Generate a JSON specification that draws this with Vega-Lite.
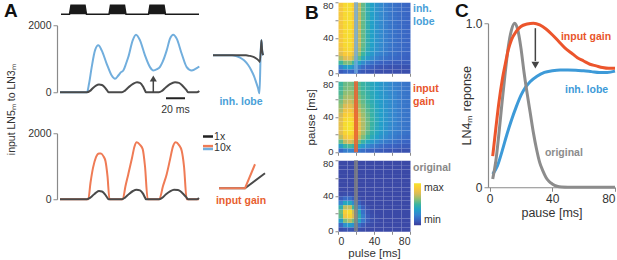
{
"$schema": "https://vega.github.io/schema/vega-lite/v6.json",
"background": "white",
"padding": {"left": 4, "top": 0.25, "right": 0, "bottom": 0},
"config": {
 "font": "Liberation Sans",
 "view": {"stroke": null},
 "axis": {"domainColor": "#8a8a8a", "tickColor": "#8a8a8a", "labelColor": "#333", "titleColor": "#333", "labelFontSize": 10.5, "titleFontSize": 11, "titleFontWeight": "normal", "grid": false, "tickSize": 4, "labelPadding": 2, "domainWidth": 1.2},
 "legend": {"labelFontSize": 10.5, "labelColor": "#333"}
},
"datasets": {
 "stimulus": [{"t":1,"v":0},{"t":9.5,"v":0},{"t":11,"v":1},{"t":25,"v":1},{"t":26.5,"v":0},{"t":49,"v":0},{"t":50.5,"v":1},{"t":64.5,"v":1},{"t":66,"v":0},{"t":88.5,"v":0},{"t":90,"v":1},{"t":104,"v":1},{"t":105.5,"v":0},{"t":139,"v":0}],
 "inhTrace": [
  {"gain":"10x","time":0,"input":0},{"gain":"10x","time":27,"input":0},{"gain":"10x","time":29,"input":250},{"gain":"10x","time":31.7,"input":750},{"gain":"10x","time":35,"input":1250},{"gain":"10x","time":38.3,"input":1400},{"gain":"10x","time":41.7,"input":1250},{"gain":"10x","time":46.7,"input":850},{"gain":"10x","time":51.7,"input":500},{"gain":"10x","time":55,"input":400},{"gain":"10x","time":58.3,"input":500},{"gain":"10x","time":61,"input":600},{"gain":"10x","time":63.3,"input":650},{"gain":"10x","time":66,"input":850},{"gain":"10x","time":68.3,"input":1050},{"gain":"10x","time":72.7,"input":1550},{"gain":"10x","time":76,"input":1720},{"gain":"10x","time":80,"input":1550},{"gain":"10x","time":85,"input":1100},{"gain":"10x","time":90,"input":750},{"gain":"10x","time":93.3,"input":650},{"gain":"10x","time":97,"input":690},{"gain":"10x","time":100,"input":760},{"gain":"10x","time":102.5,"input":900},{"gain":"10x","time":106.7,"input":1250},{"gain":"10x","time":110,"input":1600},{"gain":"10x","time":113.3,"input":1720},{"gain":"10x","time":116.7,"input":1600},{"gain":"10x","time":121.7,"input":1150},{"gain":"10x","time":126.7,"input":750},{"gain":"10x","time":131.7,"input":650},{"gain":"10x","time":135,"input":690},{"gain":"10x","time":139.3,"input":770},
  {"gain":"1x","time":0,"input":0},{"gain":"1x","time":27,"input":0},{"gain":"1x","time":30,"input":40},{"gain":"1x","time":33,"input":130},{"gain":"1x","time":36,"input":200},{"gain":"1x","time":39,"input":230},{"gain":"1x","time":42,"input":215},{"gain":"1x","time":45,"input":140},{"gain":"1x","time":47,"input":60},{"gain":"1x","time":48.5,"input":0},{"gain":"1x","time":62,"input":0},{"gain":"1x","time":65,"input":50},{"gain":"1x","time":69,"input":160},{"gain":"1x","time":73,"input":250},{"gain":"1x","time":77,"input":300},{"gain":"1x","time":80,"input":280},{"gain":"1x","time":83,"input":170},{"gain":"1x","time":85,"input":50},{"gain":"1x","time":86,"input":0},{"gain":"1x","time":99,"input":0},{"gain":"1x","time":102,"input":40},{"gain":"1x","time":106,"input":150},{"gain":"1x","time":110,"input":240},{"gain":"1x","time":115,"input":300},{"gain":"1x","time":119,"input":280},{"gain":"1x","time":123,"input":180},{"gain":"1x","time":126.5,"input":60},{"gain":"1x","time":128,"input":0},{"gain":"1x","time":137,"input":0},{"gain":"1x","time":139.3,"input":40}
 ],
 "gainTrace": [
  {"gain":"10x","time":0,"input":0},{"gain":"10x","time":28.3,"input":0},{"gain":"10x","time":30.5,"input":500},{"gain":"10x","time":33,"input":950},{"gain":"10x","time":36,"input":1280},{"gain":"10x","time":39,"input":1390},{"gain":"10x","time":41,"input":1390},{"gain":"10x","time":43.5,"input":1300},{"gain":"10x","time":45.5,"input":1150},{"gain":"10x","time":47.5,"input":700},{"gain":"10x","time":49.5,"input":0},{"gain":"10x","time":62.7,"input":0},{"gain":"10x","time":65.5,"input":400},{"gain":"10x","time":68.3,"input":760},{"gain":"10x","time":72,"input":1250},{"gain":"10x","time":74.5,"input":1600},{"gain":"10x","time":76.7,"input":1725},{"gain":"10x","time":80,"input":1650},{"gain":"10x","time":82.7,"input":1520},{"gain":"10x","time":85,"input":1000},{"gain":"10x","time":87.7,"input":0},{"gain":"10x","time":99.3,"input":0},{"gain":"10x","time":103,"input":400},{"gain":"10x","time":106.7,"input":760},{"gain":"10x","time":110,"input":1200},{"gain":"10x","time":113,"input":1600},{"gain":"10x","time":115.7,"input":1725},{"gain":"10x","time":119,"input":1640},{"gain":"10x","time":121.7,"input":1470},{"gain":"10x","time":124,"input":1000},{"gain":"10x","time":126.7,"input":0},{"gain":"10x","time":139,"input":0},
  {"gain":"1x","time":0,"input":0},{"gain":"1x","time":27,"input":0},{"gain":"1x","time":30,"input":40},{"gain":"1x","time":33,"input":120},{"gain":"1x","time":36,"input":200},{"gain":"1x","time":39,"input":250},{"gain":"1x","time":42,"input":235},{"gain":"1x","time":45,"input":150},{"gain":"1x","time":47,"input":60},{"gain":"1x","time":48.5,"input":0},{"gain":"1x","time":62,"input":0},{"gain":"1x","time":65,"input":50},{"gain":"1x","time":69,"input":160},{"gain":"1x","time":73,"input":250},{"gain":"1x","time":76.5,"input":290},{"gain":"1x","time":80,"input":270},{"gain":"1x","time":83,"input":170},{"gain":"1x","time":85,"input":50},{"gain":"1x","time":86,"input":0},{"gain":"1x","time":99,"input":0},{"gain":"1x","time":102,"input":40},{"gain":"1x","time":106,"input":150},{"gain":"1x","time":110,"input":240},{"gain":"1x","time":114,"input":290},{"gain":"1x","time":118,"input":280},{"gain":"1x","time":122,"input":200},{"gain":"1x","time":126,"input":70},{"gain":"1x","time":128,"input":0},{"gain":"1x","time":137,"input":0},{"gain":"1x","time":139,"input":40}
 ],
 "kernel": [
  {"gain":"10x","lag":-52,"w":0},{"gain":"10x","lag":-33,"w":0},{"gain":"10x","lag":-29,"w":-0.02},{"gain":"10x","lag":-25,"w":-0.06},{"gain":"10x","lag":-21,"w":-0.13},{"gain":"10x","lag":-17,"w":-0.25},{"gain":"10x","lag":-14,"w":-0.38},{"gain":"10x","lag":-11,"w":-0.55},{"gain":"10x","lag":-9,"w":-0.7},{"gain":"10x","lag":-7,"w":-0.86},{"gain":"10x","lag":-5.5,"w":-1.0},{"gain":"10x","lag":-4.3,"w":0.1},{"gain":"10x","lag":-3.6,"w":0.4},{"gain":"10x","lag":-2.8,"w":0.12},{"gain":"10x","lag":-1.8,"w":0},
  {"gain":"1x","lag":-52,"w":0},{"gain":"1x","lag":-19,"w":0},{"gain":"1x","lag":-15,"w":-0.02},{"gain":"1x","lag":-11,"w":-0.05},{"gain":"1x","lag":-8,"w":-0.1},{"gain":"1x","lag":-6,"w":-0.15},{"gain":"1x","lag":-5.2,"w":-0.18},{"gain":"1x","lag":-4.3,"w":0.1},{"gain":"1x","lag":-3.6,"w":0.4},{"gain":"1x","lag":-2.8,"w":0.12},{"gain":"1x","lag":-1.8,"w":0}
 ],
 "nonlin": [
  {"gain":"1x","x":-1,"y":0},{"gain":"1x","x":0,"y":0},{"gain":"1x","x":0.769,"y":0.577},
  {"gain":"10x","x":-1,"y":0},{"gain":"10x","x":0,"y":0},{"gain":"10x","x":0.385,"y":0.923}
 ],
 "lnResp": [
  {"model":"original","pause":2,"r":0.05},{"model":"original","pause":4,"r":0.16},{"model":"original","pause":6,"r":0.33},{"model":"original","pause":8,"r":0.52},{"model":"original","pause":10,"r":0.7},{"model":"original","pause":12,"r":0.86},{"model":"original","pause":14,"r":0.96},{"model":"original","pause":16,"r":1.0},{"model":"original","pause":18,"r":0.96},{"model":"original","pause":20,"r":0.85},{"model":"original","pause":22,"r":0.7},{"model":"original","pause":24,"r":0.57},{"model":"original","pause":26,"r":0.45},{"model":"original","pause":28,"r":0.33},{"model":"original","pause":30,"r":0.23},{"model":"original","pause":32,"r":0.15},{"model":"original","pause":34,"r":0.1},{"model":"original","pause":36,"r":0.06},{"model":"original","pause":38,"r":0.035},{"model":"original","pause":40,"r":0.02},{"model":"original","pause":43,"r":0.006},{"model":"original","pause":46,"r":0.001},{"model":"original","pause":50,"r":0},{"model":"original","pause":80,"r":0},
  {"model":"input gain","pause":2,"r":0.19},{"model":"input gain","pause":4,"r":0.36},{"model":"input gain","pause":6,"r":0.52},{"model":"input gain","pause":8,"r":0.65},{"model":"input gain","pause":10,"r":0.75},{"model":"input gain","pause":12,"r":0.84},{"model":"input gain","pause":14,"r":0.9},{"model":"input gain","pause":17,"r":0.95},{"model":"input gain","pause":20,"r":0.98},{"model":"input gain","pause":24,"r":0.995},{"model":"input gain","pause":28,"r":1.0},{"model":"input gain","pause":32,"r":0.99},{"model":"input gain","pause":36,"r":0.965},{"model":"input gain","pause":40,"r":0.93},{"model":"input gain","pause":44,"r":0.89},{"model":"input gain","pause":48,"r":0.85},{"model":"input gain","pause":52,"r":0.82},{"model":"input gain","pause":56,"r":0.79},{"model":"input gain","pause":60,"r":0.77},{"model":"input gain","pause":64,"r":0.75},{"model":"input gain","pause":68,"r":0.74},{"model":"input gain","pause":72,"r":0.73},{"model":"input gain","pause":76,"r":0.725},{"model":"input gain","pause":80,"r":0.725},
  {"model":"inh. lobe","pause":2,"r":0.08},{"model":"inh. lobe","pause":5,"r":0.13},{"model":"inh. lobe","pause":8,"r":0.22},{"model":"inh. lobe","pause":11,"r":0.32},{"model":"inh. lobe","pause":14,"r":0.41},{"model":"inh. lobe","pause":17,"r":0.49},{"model":"inh. lobe","pause":20,"r":0.56},{"model":"inh. lobe","pause":23,"r":0.61},{"model":"inh. lobe","pause":26,"r":0.645},{"model":"inh. lobe","pause":30,"r":0.675},{"model":"inh. lobe","pause":35,"r":0.7},{"model":"inh. lobe","pause":40,"r":0.71},{"model":"inh. lobe","pause":45,"r":0.715},{"model":"inh. lobe","pause":50,"r":0.715},{"model":"inh. lobe","pause":55,"r":0.714},{"model":"inh. lobe","pause":60,"r":0.71},{"model":"inh. lobe","pause":65,"r":0.705},{"model":"inh. lobe","pause":70,"r":0.7},{"model":"inh. lobe","pause":75,"r":0.7},{"model":"inh. lobe","pause":80,"r":0.708}
 ],
 "heatInh": [
  {"pulse":0,"pause":0,"v":0.1},{"pulse":5,"pause":0,"v":0.14},{"pulse":10,"pause":0,"v":0.15},{"pulse":15,"pause":0,"v":0.13},{"pulse":20,"pause":0,"v":0.11},{"pulse":25,"pause":0,"v":0.09},{"pulse":30,"pause":0,"v":0.08},{"pulse":35,"pause":0,"v":0.07},{"pulse":40,"pause":0,"v":0.06},{"pulse":45,"pause":0,"v":0.06},{"pulse":50,"pause":0,"v":0.06},{"pulse":55,"pause":0,"v":0.06},{"pulse":60,"pause":0,"v":0.06},{"pulse":65,"pause":0,"v":0.06},{"pulse":70,"pause":0,"v":0.06},{"pulse":75,"pause":0,"v":0.06},
  {"pulse":0,"pause":5,"v":0.25},{"pulse":5,"pause":5,"v":0.35},{"pulse":10,"pause":5,"v":0.36},{"pulse":15,"pause":5,"v":0.3},{"pulse":20,"pause":5,"v":0.22},{"pulse":25,"pause":5,"v":0.16},{"pulse":30,"pause":5,"v":0.13},{"pulse":35,"pause":5,"v":0.11},{"pulse":40,"pause":5,"v":0.09},{"pulse":45,"pause":5,"v":0.08},{"pulse":50,"pause":5,"v":0.08},{"pulse":55,"pause":5,"v":0.07},{"pulse":60,"pause":5,"v":0.07},{"pulse":65,"pause":5,"v":0.07},{"pulse":70,"pause":5,"v":0.07},{"pulse":75,"pause":5,"v":0.07},
  {"pulse":0,"pause":10,"v":0.5},{"pulse":5,"pause":10,"v":0.6},{"pulse":10,"pause":10,"v":0.6},{"pulse":15,"pause":10,"v":0.5},{"pulse":20,"pause":10,"v":0.38},{"pulse":25,"pause":10,"v":0.28},{"pulse":30,"pause":10,"v":0.22},{"pulse":35,"pause":10,"v":0.18},{"pulse":40,"pause":10,"v":0.15},{"pulse":45,"pause":10,"v":0.13},{"pulse":50,"pause":10,"v":0.12},{"pulse":55,"pause":10,"v":0.11},{"pulse":60,"pause":10,"v":0.1},{"pulse":65,"pause":10,"v":0.1},{"pulse":70,"pause":10,"v":0.1},{"pulse":75,"pause":10,"v":0.1},
  {"pulse":0,"pause":15,"v":0.68},{"pulse":5,"pause":15,"v":0.78},{"pulse":10,"pause":15,"v":0.8},{"pulse":15,"pause":15,"v":0.7},{"pulse":20,"pause":15,"v":0.55},{"pulse":25,"pause":15,"v":0.42},{"pulse":30,"pause":15,"v":0.34},{"pulse":35,"pause":15,"v":0.28},{"pulse":40,"pause":15,"v":0.23},{"pulse":45,"pause":15,"v":0.2},{"pulse":50,"pause":15,"v":0.18},{"pulse":55,"pause":15,"v":0.16},{"pulse":60,"pause":15,"v":0.15},{"pulse":65,"pause":15,"v":0.14},{"pulse":70,"pause":15,"v":0.13},{"pulse":75,"pause":15,"v":0.12},
  {"pulse":0,"pause":20,"v":0.78},{"pulse":5,"pause":20,"v":0.88},{"pulse":10,"pause":20,"v":0.9},{"pulse":15,"pause":20,"v":0.8},{"pulse":20,"pause":20,"v":0.64},{"pulse":25,"pause":20,"v":0.5},{"pulse":30,"pause":20,"v":0.4},{"pulse":35,"pause":20,"v":0.33},{"pulse":40,"pause":20,"v":0.27},{"pulse":45,"pause":20,"v":0.24},{"pulse":50,"pause":20,"v":0.21},{"pulse":55,"pause":20,"v":0.18},{"pulse":60,"pause":20,"v":0.17},{"pulse":65,"pause":20,"v":0.15},{"pulse":70,"pause":20,"v":0.14},{"pulse":75,"pause":20,"v":0.13},
  {"pulse":0,"pause":25,"v":0.83},{"pulse":5,"pause":25,"v":0.93},{"pulse":10,"pause":25,"v":0.95},{"pulse":15,"pause":25,"v":0.85},{"pulse":20,"pause":25,"v":0.69},{"pulse":25,"pause":25,"v":0.54},{"pulse":30,"pause":25,"v":0.43},{"pulse":35,"pause":25,"v":0.35},{"pulse":40,"pause":25,"v":0.3},{"pulse":45,"pause":25,"v":0.26},{"pulse":50,"pause":25,"v":0.22},{"pulse":55,"pause":25,"v":0.19},{"pulse":60,"pause":25,"v":0.17},{"pulse":65,"pause":25,"v":0.16},{"pulse":70,"pause":25,"v":0.15},{"pulse":75,"pause":25,"v":0.14},
  {"pulse":0,"pause":30,"v":0.86},{"pulse":5,"pause":30,"v":0.95},{"pulse":10,"pause":30,"v":0.97},{"pulse":15,"pause":30,"v":0.88},{"pulse":20,"pause":30,"v":0.72},{"pulse":25,"pause":30,"v":0.56},{"pulse":30,"pause":30,"v":0.45},{"pulse":35,"pause":30,"v":0.37},{"pulse":40,"pause":30,"v":0.31},{"pulse":45,"pause":30,"v":0.27},{"pulse":50,"pause":30,"v":0.23},{"pulse":55,"pause":30,"v":0.2},{"pulse":60,"pause":30,"v":0.18},{"pulse":65,"pause":30,"v":0.16},{"pulse":70,"pause":30,"v":0.15},{"pulse":75,"pause":30,"v":0.14},
  {"pulse":0,"pause":35,"v":0.86},{"pulse":5,"pause":35,"v":0.95},{"pulse":10,"pause":35,"v":0.97},{"pulse":15,"pause":35,"v":0.88},{"pulse":20,"pause":35,"v":0.72},{"pulse":25,"pause":35,"v":0.56},{"pulse":30,"pause":35,"v":0.45},{"pulse":35,"pause":35,"v":0.37},{"pulse":40,"pause":35,"v":0.31},{"pulse":45,"pause":35,"v":0.27},{"pulse":50,"pause":35,"v":0.23},{"pulse":55,"pause":35,"v":0.2},{"pulse":60,"pause":35,"v":0.18},{"pulse":65,"pause":35,"v":0.16},{"pulse":70,"pause":35,"v":0.15},{"pulse":75,"pause":35,"v":0.14},
  {"pulse":0,"pause":40,"v":0.86},{"pulse":5,"pause":40,"v":0.95},{"pulse":10,"pause":40,"v":0.97},{"pulse":15,"pause":40,"v":0.88},{"pulse":20,"pause":40,"v":0.72},{"pulse":25,"pause":40,"v":0.56},{"pulse":30,"pause":40,"v":0.45},{"pulse":35,"pause":40,"v":0.37},{"pulse":40,"pause":40,"v":0.31},{"pulse":45,"pause":40,"v":0.27},{"pulse":50,"pause":40,"v":0.23},{"pulse":55,"pause":40,"v":0.2},{"pulse":60,"pause":40,"v":0.18},{"pulse":65,"pause":40,"v":0.16},{"pulse":70,"pause":40,"v":0.15},{"pulse":75,"pause":40,"v":0.14},
  {"pulse":0,"pause":45,"v":0.86},{"pulse":5,"pause":45,"v":0.95},{"pulse":10,"pause":45,"v":0.97},{"pulse":15,"pause":45,"v":0.88},{"pulse":20,"pause":45,"v":0.72},{"pulse":25,"pause":45,"v":0.56},{"pulse":30,"pause":45,"v":0.45},{"pulse":35,"pause":45,"v":0.37},{"pulse":40,"pause":45,"v":0.31},{"pulse":45,"pause":45,"v":0.27},{"pulse":50,"pause":45,"v":0.23},{"pulse":55,"pause":45,"v":0.2},{"pulse":60,"pause":45,"v":0.18},{"pulse":65,"pause":45,"v":0.16},{"pulse":70,"pause":45,"v":0.15},{"pulse":75,"pause":45,"v":0.14},
  {"pulse":0,"pause":50,"v":0.86},{"pulse":5,"pause":50,"v":0.95},{"pulse":10,"pause":50,"v":0.97},{"pulse":15,"pause":50,"v":0.88},{"pulse":20,"pause":50,"v":0.72},{"pulse":25,"pause":50,"v":0.56},{"pulse":30,"pause":50,"v":0.45},{"pulse":35,"pause":50,"v":0.37},{"pulse":40,"pause":50,"v":0.31},{"pulse":45,"pause":50,"v":0.27},{"pulse":50,"pause":50,"v":0.23},{"pulse":55,"pause":50,"v":0.2},{"pulse":60,"pause":50,"v":0.18},{"pulse":65,"pause":50,"v":0.16},{"pulse":70,"pause":50,"v":0.15},{"pulse":75,"pause":50,"v":0.14},
  {"pulse":0,"pause":55,"v":0.86},{"pulse":5,"pause":55,"v":0.95},{"pulse":10,"pause":55,"v":0.97},{"pulse":15,"pause":55,"v":0.88},{"pulse":20,"pause":55,"v":0.72},{"pulse":25,"pause":55,"v":0.56},{"pulse":30,"pause":55,"v":0.45},{"pulse":35,"pause":55,"v":0.37},{"pulse":40,"pause":55,"v":0.31},{"pulse":45,"pause":55,"v":0.27},{"pulse":50,"pause":55,"v":0.23},{"pulse":55,"pause":55,"v":0.2},{"pulse":60,"pause":55,"v":0.18},{"pulse":65,"pause":55,"v":0.16},{"pulse":70,"pause":55,"v":0.15},{"pulse":75,"pause":55,"v":0.14},
  {"pulse":0,"pause":60,"v":0.86},{"pulse":5,"pause":60,"v":0.95},{"pulse":10,"pause":60,"v":0.97},{"pulse":15,"pause":60,"v":0.88},{"pulse":20,"pause":60,"v":0.72},{"pulse":25,"pause":60,"v":0.56},{"pulse":30,"pause":60,"v":0.45},{"pulse":35,"pause":60,"v":0.37},{"pulse":40,"pause":60,"v":0.31},{"pulse":45,"pause":60,"v":0.27},{"pulse":50,"pause":60,"v":0.23},{"pulse":55,"pause":60,"v":0.2},{"pulse":60,"pause":60,"v":0.18},{"pulse":65,"pause":60,"v":0.16},{"pulse":70,"pause":60,"v":0.15},{"pulse":75,"pause":60,"v":0.14},
  {"pulse":0,"pause":65,"v":0.86},{"pulse":5,"pause":65,"v":0.95},{"pulse":10,"pause":65,"v":0.97},{"pulse":15,"pause":65,"v":0.88},{"pulse":20,"pause":65,"v":0.72},{"pulse":25,"pause":65,"v":0.56},{"pulse":30,"pause":65,"v":0.45},{"pulse":35,"pause":65,"v":0.37},{"pulse":40,"pause":65,"v":0.31},{"pulse":45,"pause":65,"v":0.27},{"pulse":50,"pause":65,"v":0.23},{"pulse":55,"pause":65,"v":0.2},{"pulse":60,"pause":65,"v":0.18},{"pulse":65,"pause":65,"v":0.16},{"pulse":70,"pause":65,"v":0.15},{"pulse":75,"pause":65,"v":0.14},
  {"pulse":0,"pause":70,"v":0.86},{"pulse":5,"pause":70,"v":0.95},{"pulse":10,"pause":70,"v":0.97},{"pulse":15,"pause":70,"v":0.88},{"pulse":20,"pause":70,"v":0.72},{"pulse":25,"pause":70,"v":0.56},{"pulse":30,"pause":70,"v":0.45},{"pulse":35,"pause":70,"v":0.37},{"pulse":40,"pause":70,"v":0.31},{"pulse":45,"pause":70,"v":0.27},{"pulse":50,"pause":70,"v":0.23},{"pulse":55,"pause":70,"v":0.2},{"pulse":60,"pause":70,"v":0.18},{"pulse":65,"pause":70,"v":0.16},{"pulse":70,"pause":70,"v":0.15},{"pulse":75,"pause":70,"v":0.14},
  {"pulse":0,"pause":75,"v":0.86},{"pulse":5,"pause":75,"v":0.95},{"pulse":10,"pause":75,"v":0.97},{"pulse":15,"pause":75,"v":0.88},{"pulse":20,"pause":75,"v":0.72},{"pulse":25,"pause":75,"v":0.56},{"pulse":30,"pause":75,"v":0.45},{"pulse":35,"pause":75,"v":0.37},{"pulse":40,"pause":75,"v":0.31},{"pulse":45,"pause":75,"v":0.27},{"pulse":50,"pause":75,"v":0.23},{"pulse":55,"pause":75,"v":0.2},{"pulse":60,"pause":75,"v":0.18},{"pulse":65,"pause":75,"v":0.16},{"pulse":70,"pause":75,"v":0.15},{"pulse":75,"pause":75,"v":0.14}
 ],
 "heatGain": [
  {"pulse":0,"pause":0,"v":0.15},{"pulse":5,"pause":0,"v":0.22},{"pulse":10,"pause":0,"v":0.25},{"pulse":15,"pause":0,"v":0.24},{"pulse":20,"pause":0,"v":0.2},{"pulse":25,"pause":0,"v":0.17},{"pulse":30,"pause":0,"v":0.14},{"pulse":35,"pause":0,"v":0.12},{"pulse":40,"pause":0,"v":0.11},{"pulse":45,"pause":0,"v":0.1},{"pulse":50,"pause":0,"v":0.09},{"pulse":55,"pause":0,"v":0.08},{"pulse":60,"pause":0,"v":0.08},{"pulse":65,"pause":0,"v":0.07},{"pulse":70,"pause":0,"v":0.07},{"pulse":75,"pause":0,"v":0.07},
  {"pulse":0,"pause":5,"v":0.35},{"pulse":5,"pause":5,"v":0.48},{"pulse":10,"pause":5,"v":0.52},{"pulse":15,"pause":5,"v":0.48},{"pulse":20,"pause":5,"v":0.4},{"pulse":25,"pause":5,"v":0.33},{"pulse":30,"pause":5,"v":0.27},{"pulse":35,"pause":5,"v":0.22},{"pulse":40,"pause":5,"v":0.19},{"pulse":45,"pause":5,"v":0.16},{"pulse":50,"pause":5,"v":0.14},{"pulse":55,"pause":5,"v":0.13},{"pulse":60,"pause":5,"v":0.12},{"pulse":65,"pause":5,"v":0.11},{"pulse":70,"pause":5,"v":0.1},{"pulse":75,"pause":5,"v":0.1},
  {"pulse":0,"pause":10,"v":0.55},{"pulse":5,"pause":10,"v":0.7},{"pulse":10,"pause":10,"v":0.75},{"pulse":15,"pause":10,"v":0.7},{"pulse":20,"pause":10,"v":0.58},{"pulse":25,"pause":10,"v":0.48},{"pulse":30,"pause":10,"v":0.4},{"pulse":35,"pause":10,"v":0.33},{"pulse":40,"pause":10,"v":0.28},{"pulse":45,"pause":10,"v":0.24},{"pulse":50,"pause":10,"v":0.21},{"pulse":55,"pause":10,"v":0.19},{"pulse":60,"pause":10,"v":0.17},{"pulse":65,"pause":10,"v":0.15},{"pulse":70,"pause":10,"v":0.14},{"pulse":75,"pause":10,"v":0.13},
  {"pulse":0,"pause":15,"v":0.7},{"pulse":5,"pause":15,"v":0.85},{"pulse":10,"pause":15,"v":0.9},{"pulse":15,"pause":15,"v":0.85},{"pulse":20,"pause":15,"v":0.72},{"pulse":25,"pause":15,"v":0.6},{"pulse":30,"pause":15,"v":0.5},{"pulse":35,"pause":15,"v":0.42},{"pulse":40,"pause":15,"v":0.36},{"pulse":45,"pause":15,"v":0.31},{"pulse":50,"pause":15,"v":0.27},{"pulse":55,"pause":15,"v":0.24},{"pulse":60,"pause":15,"v":0.21},{"pulse":65,"pause":15,"v":0.19},{"pulse":70,"pause":15,"v":0.17},{"pulse":75,"pause":15,"v":0.16},
  {"pulse":0,"pause":20,"v":0.78},{"pulse":5,"pause":20,"v":0.93},{"pulse":10,"pause":20,"v":0.97},{"pulse":15,"pause":20,"v":0.92},{"pulse":20,"pause":20,"v":0.78},{"pulse":25,"pause":20,"v":0.66},{"pulse":30,"pause":20,"v":0.55},{"pulse":35,"pause":20,"v":0.46},{"pulse":40,"pause":20,"v":0.4},{"pulse":45,"pause":20,"v":0.34},{"pulse":50,"pause":20,"v":0.3},{"pulse":55,"pause":20,"v":0.26},{"pulse":60,"pause":20,"v":0.23},{"pulse":65,"pause":20,"v":0.21},{"pulse":70,"pause":20,"v":0.19},{"pulse":75,"pause":20,"v":0.18},
  {"pulse":0,"pause":25,"v":0.8},{"pulse":5,"pause":25,"v":0.96},{"pulse":10,"pause":25,"v":1.0},{"pulse":15,"pause":25,"v":0.94},{"pulse":20,"pause":25,"v":0.8},{"pulse":25,"pause":25,"v":0.68},{"pulse":30,"pause":25,"v":0.57},{"pulse":35,"pause":25,"v":0.48},{"pulse":40,"pause":25,"v":0.41},{"pulse":45,"pause":25,"v":0.36},{"pulse":50,"pause":25,"v":0.31},{"pulse":55,"pause":25,"v":0.27},{"pulse":60,"pause":25,"v":0.24},{"pulse":65,"pause":25,"v":0.22},{"pulse":70,"pause":25,"v":0.2},{"pulse":75,"pause":25,"v":0.19},
  {"pulse":0,"pause":30,"v":0.8},{"pulse":5,"pause":30,"v":0.96},{"pulse":10,"pause":30,"v":1.0},{"pulse":15,"pause":30,"v":0.94},{"pulse":20,"pause":30,"v":0.8},{"pulse":25,"pause":30,"v":0.68},{"pulse":30,"pause":30,"v":0.58},{"pulse":35,"pause":30,"v":0.49},{"pulse":40,"pause":30,"v":0.42},{"pulse":45,"pause":30,"v":0.36},{"pulse":50,"pause":30,"v":0.32},{"pulse":55,"pause":30,"v":0.28},{"pulse":60,"pause":30,"v":0.25},{"pulse":65,"pause":30,"v":0.22},{"pulse":70,"pause":30,"v":0.2},{"pulse":75,"pause":30,"v":0.19},
  {"pulse":0,"pause":35,"v":0.78},{"pulse":5,"pause":35,"v":0.94},{"pulse":10,"pause":35,"v":0.97},{"pulse":15,"pause":35,"v":0.91},{"pulse":20,"pause":35,"v":0.78},{"pulse":25,"pause":35,"v":0.67},{"pulse":30,"pause":35,"v":0.57},{"pulse":35,"pause":35,"v":0.49},{"pulse":40,"pause":35,"v":0.42},{"pulse":45,"pause":35,"v":0.36},{"pulse":50,"pause":35,"v":0.32},{"pulse":55,"pause":35,"v":0.28},{"pulse":60,"pause":35,"v":0.25},{"pulse":65,"pause":35,"v":0.22},{"pulse":70,"pause":35,"v":0.2},{"pulse":75,"pause":35,"v":0.19},
  {"pulse":0,"pause":40,"v":0.74},{"pulse":5,"pause":40,"v":0.89},{"pulse":10,"pause":40,"v":0.92},{"pulse":15,"pause":40,"v":0.86},{"pulse":20,"pause":40,"v":0.75},{"pulse":25,"pause":40,"v":0.65},{"pulse":30,"pause":40,"v":0.56},{"pulse":35,"pause":40,"v":0.48},{"pulse":40,"pause":40,"v":0.41},{"pulse":45,"pause":40,"v":0.36},{"pulse":50,"pause":40,"v":0.32},{"pulse":55,"pause":40,"v":0.28},{"pulse":60,"pause":40,"v":0.25},{"pulse":65,"pause":40,"v":0.22},{"pulse":70,"pause":40,"v":0.2},{"pulse":75,"pause":40,"v":0.19},
  {"pulse":0,"pause":45,"v":0.69},{"pulse":5,"pause":45,"v":0.83},{"pulse":10,"pause":45,"v":0.86},{"pulse":15,"pause":45,"v":0.8},{"pulse":20,"pause":45,"v":0.71},{"pulse":25,"pause":45,"v":0.62},{"pulse":30,"pause":45,"v":0.54},{"pulse":35,"pause":45,"v":0.47},{"pulse":40,"pause":45,"v":0.41},{"pulse":45,"pause":45,"v":0.36},{"pulse":50,"pause":45,"v":0.32},{"pulse":55,"pause":45,"v":0.28},{"pulse":60,"pause":45,"v":0.25},{"pulse":65,"pause":45,"v":0.22},{"pulse":70,"pause":45,"v":0.2},{"pulse":75,"pause":45,"v":0.19},
  {"pulse":0,"pause":50,"v":0.64},{"pulse":5,"pause":50,"v":0.76},{"pulse":10,"pause":50,"v":0.79},{"pulse":15,"pause":50,"v":0.74},{"pulse":20,"pause":50,"v":0.67},{"pulse":25,"pause":50,"v":0.59},{"pulse":30,"pause":50,"v":0.52},{"pulse":35,"pause":50,"v":0.46},{"pulse":40,"pause":50,"v":0.4},{"pulse":45,"pause":50,"v":0.35},{"pulse":50,"pause":50,"v":0.31},{"pulse":55,"pause":50,"v":0.28},{"pulse":60,"pause":50,"v":0.25},{"pulse":65,"pause":50,"v":0.22},{"pulse":70,"pause":50,"v":0.2},{"pulse":75,"pause":50,"v":0.19},
  {"pulse":0,"pause":55,"v":0.6},{"pulse":5,"pause":55,"v":0.7},{"pulse":10,"pause":55,"v":0.73},{"pulse":15,"pause":55,"v":0.69},{"pulse":20,"pause":55,"v":0.63},{"pulse":25,"pause":55,"v":0.56},{"pulse":30,"pause":55,"v":0.5},{"pulse":35,"pause":55,"v":0.44},{"pulse":40,"pause":55,"v":0.39},{"pulse":45,"pause":55,"v":0.35},{"pulse":50,"pause":55,"v":0.31},{"pulse":55,"pause":55,"v":0.28},{"pulse":60,"pause":55,"v":0.25},{"pulse":65,"pause":55,"v":0.22},{"pulse":70,"pause":55,"v":0.2},{"pulse":75,"pause":55,"v":0.19},
  {"pulse":0,"pause":60,"v":0.56},{"pulse":5,"pause":60,"v":0.66},{"pulse":10,"pause":60,"v":0.68},{"pulse":15,"pause":60,"v":0.65},{"pulse":20,"pause":60,"v":0.6},{"pulse":25,"pause":60,"v":0.54},{"pulse":30,"pause":60,"v":0.48},{"pulse":35,"pause":60,"v":0.43},{"pulse":40,"pause":60,"v":0.38},{"pulse":45,"pause":60,"v":0.34},{"pulse":50,"pause":60,"v":0.31},{"pulse":55,"pause":60,"v":0.28},{"pulse":60,"pause":60,"v":0.25},{"pulse":65,"pause":60,"v":0.22},{"pulse":70,"pause":60,"v":0.2},{"pulse":75,"pause":60,"v":0.19},
  {"pulse":0,"pause":65,"v":0.53},{"pulse":5,"pause":65,"v":0.62},{"pulse":10,"pause":65,"v":0.64},{"pulse":15,"pause":65,"v":0.62},{"pulse":20,"pause":65,"v":0.57},{"pulse":25,"pause":65,"v":0.52},{"pulse":30,"pause":65,"v":0.47},{"pulse":35,"pause":65,"v":0.42},{"pulse":40,"pause":65,"v":0.38},{"pulse":45,"pause":65,"v":0.34},{"pulse":50,"pause":65,"v":0.3},{"pulse":55,"pause":65,"v":0.27},{"pulse":60,"pause":65,"v":0.25},{"pulse":65,"pause":65,"v":0.22},{"pulse":70,"pause":65,"v":0.2},{"pulse":75,"pause":65,"v":0.19},
  {"pulse":0,"pause":70,"v":0.51},{"pulse":5,"pause":70,"v":0.59},{"pulse":10,"pause":70,"v":0.61},{"pulse":15,"pause":70,"v":0.59},{"pulse":20,"pause":70,"v":0.55},{"pulse":25,"pause":70,"v":0.5},{"pulse":30,"pause":70,"v":0.46},{"pulse":35,"pause":70,"v":0.41},{"pulse":40,"pause":70,"v":0.37},{"pulse":45,"pause":70,"v":0.33},{"pulse":50,"pause":70,"v":0.3},{"pulse":55,"pause":70,"v":0.27},{"pulse":60,"pause":70,"v":0.24},{"pulse":65,"pause":70,"v":0.22},{"pulse":70,"pause":70,"v":0.2},{"pulse":75,"pause":70,"v":0.19},
  {"pulse":0,"pause":75,"v":0.5},{"pulse":5,"pause":75,"v":0.57},{"pulse":10,"pause":75,"v":0.59},{"pulse":15,"pause":75,"v":0.57},{"pulse":20,"pause":75,"v":0.54},{"pulse":25,"pause":75,"v":0.49},{"pulse":30,"pause":75,"v":0.45},{"pulse":35,"pause":75,"v":0.41},{"pulse":40,"pause":75,"v":0.37},{"pulse":45,"pause":75,"v":0.33},{"pulse":50,"pause":75,"v":0.3},{"pulse":55,"pause":75,"v":0.27},{"pulse":60,"pause":75,"v":0.24},{"pulse":65,"pause":75,"v":0.22},{"pulse":70,"pause":75,"v":0.2},{"pulse":75,"pause":75,"v":0.19}
 ],
 "heatOrig": [
  {"pulse":0,"pause":0,"v":0.05},{"pulse":5,"pause":0,"v":0.07},{"pulse":10,"pause":0,"v":0.08},{"pulse":15,"pause":0,"v":0.07},{"pulse":20,"pause":0,"v":0.06},{"pulse":25,"pause":0,"v":0.05},{"pulse":30,"pause":0,"v":0.04},{"pulse":35,"pause":0,"v":0.04},{"pulse":40,"pause":0,"v":0.04},{"pulse":45,"pause":0,"v":0.04},{"pulse":50,"pause":0,"v":0.04},{"pulse":55,"pause":0,"v":0.04},{"pulse":60,"pause":0,"v":0.04},{"pulse":65,"pause":0,"v":0.04},{"pulse":70,"pause":0,"v":0.04},{"pulse":75,"pause":0,"v":0.04},
  {"pulse":0,"pause":5,"v":0.15},{"pulse":5,"pause":5,"v":0.3},{"pulse":10,"pause":5,"v":0.35},{"pulse":15,"pause":5,"v":0.3},{"pulse":20,"pause":5,"v":0.18},{"pulse":25,"pause":5,"v":0.1},{"pulse":30,"pause":5,"v":0.06},{"pulse":35,"pause":5,"v":0.05},{"pulse":40,"pause":5,"v":0.04},{"pulse":45,"pause":5,"v":0.04},{"pulse":50,"pause":5,"v":0.04},{"pulse":55,"pause":5,"v":0.04},{"pulse":60,"pause":5,"v":0.04},{"pulse":65,"pause":5,"v":0.04},{"pulse":70,"pause":5,"v":0.04},{"pulse":75,"pause":5,"v":0.04},
  {"pulse":0,"pause":10,"v":0.35},{"pulse":5,"pause":10,"v":0.6},{"pulse":10,"pause":10,"v":0.68},{"pulse":15,"pause":10,"v":0.58},{"pulse":20,"pause":10,"v":0.38},{"pulse":25,"pause":10,"v":0.2},{"pulse":30,"pause":10,"v":0.1},{"pulse":35,"pause":10,"v":0.06},{"pulse":40,"pause":10,"v":0.05},{"pulse":45,"pause":10,"v":0.04},{"pulse":50,"pause":10,"v":0.04},{"pulse":55,"pause":10,"v":0.04},{"pulse":60,"pause":10,"v":0.04},{"pulse":65,"pause":10,"v":0.04},{"pulse":70,"pause":10,"v":0.04},{"pulse":75,"pause":10,"v":0.04},
  {"pulse":0,"pause":15,"v":0.55},{"pulse":5,"pause":15,"v":0.85},{"pulse":10,"pause":15,"v":0.92},{"pulse":15,"pause":15,"v":0.75},{"pulse":20,"pause":15,"v":0.45},{"pulse":25,"pause":15,"v":0.22},{"pulse":30,"pause":15,"v":0.1},{"pulse":35,"pause":15,"v":0.06},{"pulse":40,"pause":15,"v":0.05},{"pulse":45,"pause":15,"v":0.04},{"pulse":50,"pause":15,"v":0.04},{"pulse":55,"pause":15,"v":0.04},{"pulse":60,"pause":15,"v":0.04},{"pulse":65,"pause":15,"v":0.04},{"pulse":70,"pause":15,"v":0.04},{"pulse":75,"pause":15,"v":0.04},
  {"pulse":0,"pause":20,"v":0.58},{"pulse":5,"pause":20,"v":0.9},{"pulse":10,"pause":20,"v":0.97},{"pulse":15,"pause":20,"v":0.72},{"pulse":20,"pause":20,"v":0.4},{"pulse":25,"pause":20,"v":0.18},{"pulse":30,"pause":20,"v":0.08},{"pulse":35,"pause":20,"v":0.05},{"pulse":40,"pause":20,"v":0.04},{"pulse":45,"pause":20,"v":0.04},{"pulse":50,"pause":20,"v":0.04},{"pulse":55,"pause":20,"v":0.04},{"pulse":60,"pause":20,"v":0.04},{"pulse":65,"pause":20,"v":0.04},{"pulse":70,"pause":20,"v":0.04},{"pulse":75,"pause":20,"v":0.04},
  {"pulse":0,"pause":25,"v":0.45},{"pulse":5,"pause":25,"v":0.7},{"pulse":10,"pause":25,"v":0.72},{"pulse":15,"pause":25,"v":0.5},{"pulse":20,"pause":25,"v":0.25},{"pulse":25,"pause":25,"v":0.11},{"pulse":30,"pause":25,"v":0.06},{"pulse":35,"pause":25,"v":0.04},{"pulse":40,"pause":25,"v":0.04},{"pulse":45,"pause":25,"v":0.04},{"pulse":50,"pause":25,"v":0.04},{"pulse":55,"pause":25,"v":0.04},{"pulse":60,"pause":25,"v":0.04},{"pulse":65,"pause":25,"v":0.04},{"pulse":70,"pause":25,"v":0.04},{"pulse":75,"pause":25,"v":0.04},
  {"pulse":0,"pause":30,"v":0.25},{"pulse":5,"pause":30,"v":0.4},{"pulse":10,"pause":30,"v":0.4},{"pulse":15,"pause":30,"v":0.26},{"pulse":20,"pause":30,"v":0.12},{"pulse":25,"pause":30,"v":0.06},{"pulse":30,"pause":30,"v":0.04},{"pulse":35,"pause":30,"v":0.04},{"pulse":40,"pause":30,"v":0.04},{"pulse":45,"pause":30,"v":0.04},{"pulse":50,"pause":30,"v":0.04},{"pulse":55,"pause":30,"v":0.04},{"pulse":60,"pause":30,"v":0.04},{"pulse":65,"pause":30,"v":0.04},{"pulse":70,"pause":30,"v":0.04},{"pulse":75,"pause":30,"v":0.04},
  {"pulse":0,"pause":35,"v":0.1},{"pulse":5,"pause":35,"v":0.16},{"pulse":10,"pause":35,"v":0.16},{"pulse":15,"pause":35,"v":0.1},{"pulse":20,"pause":35,"v":0.06},{"pulse":25,"pause":35,"v":0.04},{"pulse":30,"pause":35,"v":0.04},{"pulse":35,"pause":35,"v":0.04},{"pulse":40,"pause":35,"v":0.04},{"pulse":45,"pause":35,"v":0.04},{"pulse":50,"pause":35,"v":0.04},{"pulse":55,"pause":35,"v":0.04},{"pulse":60,"pause":35,"v":0.04},{"pulse":65,"pause":35,"v":0.04},{"pulse":70,"pause":35,"v":0.04},{"pulse":75,"pause":35,"v":0.04},
  {"pulse":0,"pause":40,"v":0.05},{"pulse":5,"pause":40,"v":0.06},{"pulse":10,"pause":40,"v":0.06},{"pulse":15,"pause":40,"v":0.05},{"pulse":20,"pause":40,"v":0.04},{"pulse":25,"pause":40,"v":0.04},{"pulse":30,"pause":40,"v":0.04},{"pulse":35,"pause":40,"v":0.04},{"pulse":40,"pause":40,"v":0.04},{"pulse":45,"pause":40,"v":0.04},{"pulse":50,"pause":40,"v":0.04},{"pulse":55,"pause":40,"v":0.04},{"pulse":60,"pause":40,"v":0.04},{"pulse":65,"pause":40,"v":0.04},{"pulse":70,"pause":40,"v":0.04},{"pulse":75,"pause":40,"v":0.04},
  {"pulse":0,"pause":45,"v":0.04},{"pulse":5,"pause":45,"v":0.04},{"pulse":10,"pause":45,"v":0.04},{"pulse":15,"pause":45,"v":0.04},{"pulse":20,"pause":45,"v":0.04},{"pulse":25,"pause":45,"v":0.04},{"pulse":30,"pause":45,"v":0.04},{"pulse":35,"pause":45,"v":0.04},{"pulse":40,"pause":45,"v":0.04},{"pulse":45,"pause":45,"v":0.04},{"pulse":50,"pause":45,"v":0.04},{"pulse":55,"pause":45,"v":0.04},{"pulse":60,"pause":45,"v":0.04},{"pulse":65,"pause":45,"v":0.04},{"pulse":70,"pause":45,"v":0.04},{"pulse":75,"pause":45,"v":0.04},
  {"pulse":0,"pause":50,"v":0.04},{"pulse":5,"pause":50,"v":0.04},{"pulse":10,"pause":50,"v":0.04},{"pulse":15,"pause":50,"v":0.04},{"pulse":20,"pause":50,"v":0.04},{"pulse":25,"pause":50,"v":0.04},{"pulse":30,"pause":50,"v":0.04},{"pulse":35,"pause":50,"v":0.04},{"pulse":40,"pause":50,"v":0.04},{"pulse":45,"pause":50,"v":0.04},{"pulse":50,"pause":50,"v":0.04},{"pulse":55,"pause":50,"v":0.04},{"pulse":60,"pause":50,"v":0.04},{"pulse":65,"pause":50,"v":0.04},{"pulse":70,"pause":50,"v":0.04},{"pulse":75,"pause":50,"v":0.04},
  {"pulse":0,"pause":55,"v":0.04},{"pulse":5,"pause":55,"v":0.04},{"pulse":10,"pause":55,"v":0.04},{"pulse":15,"pause":55,"v":0.04},{"pulse":20,"pause":55,"v":0.04},{"pulse":25,"pause":55,"v":0.04},{"pulse":30,"pause":55,"v":0.04},{"pulse":35,"pause":55,"v":0.04},{"pulse":40,"pause":55,"v":0.04},{"pulse":45,"pause":55,"v":0.04},{"pulse":50,"pause":55,"v":0.04},{"pulse":55,"pause":55,"v":0.04},{"pulse":60,"pause":55,"v":0.04},{"pulse":65,"pause":55,"v":0.04},{"pulse":70,"pause":55,"v":0.04},{"pulse":75,"pause":55,"v":0.04},
  {"pulse":0,"pause":60,"v":0.04},{"pulse":5,"pause":60,"v":0.04},{"pulse":10,"pause":60,"v":0.04},{"pulse":15,"pause":60,"v":0.04},{"pulse":20,"pause":60,"v":0.04},{"pulse":25,"pause":60,"v":0.04},{"pulse":30,"pause":60,"v":0.04},{"pulse":35,"pause":60,"v":0.04},{"pulse":40,"pause":60,"v":0.04},{"pulse":45,"pause":60,"v":0.04},{"pulse":50,"pause":60,"v":0.04},{"pulse":55,"pause":60,"v":0.04},{"pulse":60,"pause":60,"v":0.04},{"pulse":65,"pause":60,"v":0.04},{"pulse":70,"pause":60,"v":0.04},{"pulse":75,"pause":60,"v":0.04},
  {"pulse":0,"pause":65,"v":0.04},{"pulse":5,"pause":65,"v":0.04},{"pulse":10,"pause":65,"v":0.04},{"pulse":15,"pause":65,"v":0.04},{"pulse":20,"pause":65,"v":0.04},{"pulse":25,"pause":65,"v":0.04},{"pulse":30,"pause":65,"v":0.04},{"pulse":35,"pause":65,"v":0.04},{"pulse":40,"pause":65,"v":0.04},{"pulse":45,"pause":65,"v":0.04},{"pulse":50,"pause":65,"v":0.04},{"pulse":55,"pause":65,"v":0.04},{"pulse":60,"pause":65,"v":0.04},{"pulse":65,"pause":65,"v":0.04},{"pulse":70,"pause":65,"v":0.04},{"pulse":75,"pause":65,"v":0.04},
  {"pulse":0,"pause":70,"v":0.04},{"pulse":5,"pause":70,"v":0.04},{"pulse":10,"pause":70,"v":0.04},{"pulse":15,"pause":70,"v":0.04},{"pulse":20,"pause":70,"v":0.04},{"pulse":25,"pause":70,"v":0.04},{"pulse":30,"pause":70,"v":0.04},{"pulse":35,"pause":70,"v":0.04},{"pulse":40,"pause":70,"v":0.04},{"pulse":45,"pause":70,"v":0.04},{"pulse":50,"pause":70,"v":0.04},{"pulse":55,"pause":70,"v":0.04},{"pulse":60,"pause":70,"v":0.04},{"pulse":65,"pause":70,"v":0.04},{"pulse":70,"pause":70,"v":0.04},{"pulse":75,"pause":70,"v":0.04},
  {"pulse":0,"pause":75,"v":0.04},{"pulse":5,"pause":75,"v":0.04},{"pulse":10,"pause":75,"v":0.04},{"pulse":15,"pause":75,"v":0.04},{"pulse":20,"pause":75,"v":0.04},{"pulse":25,"pause":75,"v":0.04},{"pulse":30,"pause":75,"v":0.04},{"pulse":35,"pause":75,"v":0.04},{"pulse":40,"pause":75,"v":0.04},{"pulse":45,"pause":75,"v":0.04},{"pulse":50,"pause":75,"v":0.04},{"pulse":55,"pause":75,"v":0.04},{"pulse":60,"pause":75,"v":0.04},{"pulse":65,"pause":75,"v":0.04},{"pulse":70,"pause":75,"v":0.04},{"pulse":75,"pause":75,"v":0.04}
 ]
},
"resolve": {"scale": {"color": "independent"}, "legend": {"color": "independent"}},
"spacing": 35,
"hconcat": [
 {
  "bounds": "flush",
  "spacing": 11,
  "vconcat": [
   {
    "width": 208, "height": 12,
    "layer": [
     {"data": {"name": "stimulus"},
      "mark": {"type": "area", "color": "#1a1a1a", "opacity": 1, "line": {"color": "#1a1a1a", "strokeWidth": 1.5}},
      "encoding": {
       "x": {"field": "t", "type": "quantitative", "scale": {"domain": [-3, 205], "nice": false, "zero": false}, "axis": null},
       "y": {"field": "v", "type": "quantitative", "scale": {"domain": [0, 1.333], "nice": false}, "axis": null}}},
     {"data": {"values": [{"letter": "A"}]},
      "mark": {"type": "text", "fontSize": 19, "fontWeight": "bold", "align": "left", "baseline": "top", "color": "#111"},
      "encoding": {"text": {"field": "letter"}, "x": {"datum": -56, "axis": null}, "y": {"datum": 1.35, "axis": null}}}
    ]
   },
   {
    "width": 208, "height": 67,
    "resolve": {"scale": {"x": "independent", "y": "independent"}},
    "layer": [
     {"layer": [
       {"data": {"name": "inhTrace"}, "transform": [{"filter": "datum.gain == '10x'"}],
        "mark": {"type": "line", "color": "#71aedd", "strokeWidth": 2, "interpolate": "monotone"},
        "encoding": {
         "x": {"field": "time", "type": "quantitative", "scale": {"domain": [-3, 205], "nice": false, "zero": false}, "axis": null},
         "y": {"field": "input", "type": "quantitative", "scale": {"domain": [0, 2000], "nice": false}, "axis": {"values": [0, 2000], "format": "d", "title": "input LN5ₘ to LN3ₘ", "titleX": -41, "titleY": 84, "titleFontSize": 10.5}}}},
       {"data": {"name": "inhTrace"}, "transform": [{"filter": "datum.gain == '1x'"}],
        "mark": {"type": "line", "color": "#4a4a4a", "strokeWidth": 2, "interpolate": "monotone"},
        "encoding": {"x": {"field": "time", "type": "quantitative", "axis": null}, "y": {"field": "input", "type": "quantitative"}}},
       {"data": {"values": [{}]},
        "mark": {"type": "rule", "color": "#444", "strokeWidth": 1.5},
        "encoding": {"x": {"datum": 93.3, "axis": null}, "y": {"datum": 0}, "y2": {"datum": 350}}},
       {"data": {"values": [{}]},
        "mark": {"type": "point", "shape": "triangle-up", "filled": true, "color": "#444", "size": 50, "opacity": 1},
        "encoding": {"x": {"datum": 93.3, "axis": null}, "y": {"datum": 410}}}
     ]},
     {"layer": [
       {"data": {"name": "kernel"}, "transform": [{"filter": "datum.gain == '10x'"}],
        "mark": {"type": "line", "color": "#71aedd", "strokeWidth": 2, "interpolate": "monotone"},
        "encoding": {
         "x": {"field": "lag", "type": "quantitative", "scale": {"domain": [-208, 0], "nice": false, "zero": false}, "axis": null},
         "y": {"field": "w", "type": "quantitative", "scale": {"domain": [-0.974, 0.789], "nice": false, "zero": false}, "axis": null}}},
       {"data": {"name": "kernel"}, "transform": [{"filter": "datum.gain == '1x'"}],
        "mark": {"type": "line", "color": "#4a4a4a", "strokeWidth": 1.8, "interpolate": "monotone"},
        "encoding": {"x": {"field": "lag", "type": "quantitative", "axis": null}, "y": {"field": "w", "type": "quantitative", "axis": null}}},
       {"data": {"values": [{"label": "inh. lobe"}]},
        "mark": {"type": "text", "fontSize": 10.5, "fontWeight": "bold", "color": "#4a9fd8", "baseline": "middle"},
        "encoding": {"text": {"field": "label"}, "x": {"datum": -24, "axis": null}, "y": {"datum": -1.23, "axis": null}}}
     ]}
    ]
   },
   {
    "width": 208, "height": 19,
    "layer": [
     {"data": {"values": [{}]},
      "mark": {"type": "rule", "color": "#222", "strokeWidth": 2},
      "encoding": {"x": {"datum": 106, "scale": {"domain": [-3, 205], "nice": false, "zero": false}, "axis": null}, "x2": {"datum": 125}, "y": {"datum": 1.263, "scale": {"domain": [0, 1], "nice": false}, "axis": null}}},
     {"data": {"values": [{"label": "20 ms"}]},
      "mark": {"type": "text", "fontSize": 10.5, "color": "#333", "baseline": "middle"},
      "encoding": {"text": {"field": "label"}, "x": {"datum": 115.5, "axis": null}, "y": {"datum": 0.632, "axis": null}}}
    ]
   },
   {
    "width": 208, "height": 66,
    "resolve": {"scale": {"x": "independent", "y": "independent"}},
    "layer": [
     {"layer": [
       {"data": {"name": "gainTrace"}, "transform": [{"filter": "datum.gain == '10x'"}],
        "mark": {"type": "line", "color": "#ef7b55", "strokeWidth": 2, "interpolate": "monotone"},
        "encoding": {
         "x": {"field": "time", "type": "quantitative", "scale": {"domain": [-3, 205], "nice": false, "zero": false}, "axis": null},
         "y": {"field": "input", "type": "quantitative", "scale": {"domain": [0, 2000], "nice": false}, "axis": {"values": [0, 2000], "format": "d", "title": null}}}},
       {"data": {"name": "gainTrace"}, "transform": [{"filter": "datum.gain == '1x'"}],
        "mark": {"type": "line", "color": "#4a4a4a", "strokeWidth": 2, "interpolate": "monotone"},
        "encoding": {"x": {"field": "time", "type": "quantitative", "axis": null}, "y": {"field": "input", "type": "quantitative"}}}
     ]},
     {"layer": [
       {"data": {"name": "nonlin"}, "transform": [{"filter": "datum.gain == '1x'"}],
        "mark": {"type": "line", "color": "#4a4a4a", "strokeWidth": 2},
        "encoding": {
         "x": {"field": "x", "type": "quantitative", "scale": {"domain": [-7.229, 0.769], "nice": false, "zero": false}, "axis": null},
         "y": {"field": "y", "type": "quantitative", "scale": {"domain": [-0.423, 2.115], "nice": false, "zero": false}, "axis": null}}},
       {"data": {"name": "nonlin"}, "transform": [{"filter": "datum.gain == '10x'"}],
        "mark": {"type": "line", "color": "#ef7b55", "strokeWidth": 2},
        "encoding": {"x": {"field": "x", "type": "quantitative", "axis": null}, "y": {"field": "y", "type": "quantitative", "axis": null}}},
       {"data": {"values": [{"label": "input gain"}]},
        "mark": {"type": "text", "fontSize": 10.5, "fontWeight": "bold", "color": "#e8602f", "baseline": "middle"},
        "encoding": {"text": {"field": "label"}, "x": {"datum": -0.154, "axis": null}, "y": {"datum": -0.5, "axis": null}}},
       {"data": {"values": [{}]},
        "mark": {"type": "rule", "color": "#222", "strokeWidth": 2.5},
        "encoding": {"x": {"datum": -1.615, "axis": null}, "x2": {"datum": -1.23}, "y": {"datum": 1.99, "axis": null}}},
       {"data": {"values": [{}]},
        "mark": {"type": "rule", "color": "#ef7b55", "strokeWidth": 2.5},
        "encoding": {"x": {"datum": -1.615, "axis": null}, "x2": {"datum": -1.23}, "y": {"datum": 1.62, "axis": null}}},
       {"data": {"values": [{}]},
        "mark": {"type": "rule", "color": "#71aedd", "strokeWidth": 2.5},
        "encoding": {"x": {"datum": -1.615, "axis": null}, "x2": {"datum": -1.23}, "y": {"datum": 1.51, "axis": null}}},
       {"data": {"values": [{"label": "1x"}]},
        "mark": {"type": "text", "fontSize": 10.5, "color": "#333", "align": "left", "baseline": "middle"},
        "encoding": {"text": {"field": "label"}, "x": {"datum": -1.19, "axis": null}, "y": {"datum": 1.99, "axis": null}}},
       {"data": {"values": [{"label": "10x"}]},
        "mark": {"type": "text", "fontSize": 10.5, "color": "#333", "align": "left", "baseline": "middle"},
        "encoding": {"text": {"field": "label"}, "x": {"datum": -1.19, "axis": null}, "y": {"datum": 1.56, "axis": null}}}
     ]}
    ]
   }
  ]
 },
 {
  "spacing": 4,
  "resolve": {"scale": {"color": "independent"}, "legend": {"color": "independent"}},
  "hconcat": [
   {
    "bounds": "flush",
    "spacing": 8,
    "resolve": {"scale": {"color": "independent"}, "legend": {"color": "independent"}},
    "vconcat": [
     {
      "width": 72, "height": 71,
      "layer": [
       {"data": {"name": "heatInh"}, "mark": {"type": "rect"},
        "encoding": {
         "x": {"field": "pulse", "type": "quantitative", "bin": {"binned": true, "step": 5}, "scale": {"domain": [0, 80], "nice": false}, "axis": {"values": [0, 20, 40, 60, 80], "labels": false, "domain": false, "tickSize": 3, "title": null}},
         "y": {"field": "pause", "type": "quantitative", "bin": {"binned": true, "step": 5}, "scale": {"domain": [0, 80], "nice": false}, "axis": {"values": [0, 20, 40, 60, 80], "labelExpr": "datum.value % 40 == 0 ? datum.label : ''", "labelFontSize": 9.5, "labelOffset": {"condition": [{"test": "datum.value == 80", "value": 3}, {"test": "datum.value == 0", "value": -1}], "value": 0}, "domain": false, "tickSize": 3, "title": null}},
         "color": {"field": "v", "type": "quantitative", "scale": {"domain": [0, 1], "interpolate": "rgb", "range": ["#3b3d9a", "#3a62c2", "#3685cf", "#22a2c8", "#3db59f", "#8ebf74", "#d9bb58", "#f9c93a", "#f5e32c"]}, "legend": null}}},
       {"data": {"values": [{}]}, "mark": {"type": "rule", "color": "#6aa6dc", "strokeWidth": 4, "opacity": 0.75}, "encoding": {"x": {"datum": 20}}},
       {"data": {"values": [{}]}, "mark": {"type": "text", "text": ["inh.", "lobe"], "lineHeight": 13, "fontSize": 10.5, "fontWeight": "bold", "color": "#4a9fd8", "align": "left", "baseline": "top"}, "encoding": {"x": {"datum": 83.3}, "y": {"datum": 77.7}}},
       {"data": {"values": [{"letter": "B"}]}, "mark": {"type": "text", "fontSize": 19, "fontWeight": "bold", "color": "#111", "align": "left", "baseline": "top"}, "encoding": {"text": {"field": "letter"}, "x": {"datum": -36.7}, "y": {"datum": 77.9}}}
      ]
     },
     {
      "width": 72, "height": 71,
      "layer": [
       {"data": {"name": "heatGain"}, "mark": {"type": "rect"},
        "encoding": {
         "x": {"field": "pulse", "type": "quantitative", "bin": {"binned": true, "step": 5}, "scale": {"domain": [0, 80], "nice": false}, "axis": {"values": [0, 20, 40, 60, 80], "labels": false, "domain": false, "tickSize": 3, "title": null}},
         "y": {"field": "pause", "type": "quantitative", "bin": {"binned": true, "step": 5}, "scale": {"domain": [0, 80], "nice": false}, "axis": {"values": [0, 20, 40, 60, 80], "labelExpr": "datum.value % 40 == 0 ? datum.label : ''", "labelFontSize": 9.5, "labelOffset": {"condition": [{"test": "datum.value == 80", "value": 3}, {"test": "datum.value == 0", "value": -1}], "value": 0}, "domain": false, "tickSize": 3, "title": "pause [ms]", "titleX": -22, "titleFontSize": 11.5}},
         "color": {"field": "v", "type": "quantitative", "scale": {"domain": [0, 1], "interpolate": "rgb", "range": ["#3b3d9a", "#3a62c2", "#3685cf", "#22a2c8", "#3db59f", "#8ebf74", "#d9bb58", "#f9c93a", "#f5e32c"]}, "legend": null}}},
       {"data": {"values": [{}]}, "mark": {"type": "rule", "color": "#e8602f", "strokeWidth": 4, "opacity": 0.85}, "encoding": {"x": {"datum": 20}}},
       {"data": {"values": [{}]}, "mark": {"type": "text", "text": ["input", "gain"], "lineHeight": 13, "fontSize": 10.5, "fontWeight": "bold", "color": "#e8552c", "align": "left", "baseline": "top"}, "encoding": {"x": {"datum": 83.3}, "y": {"datum": 76.6}}}
      ]
     },
     {
      "width": 72, "height": 71,
      "layer": [
       {"data": {"name": "heatOrig"}, "mark": {"type": "rect"},
        "encoding": {
         "x": {"field": "pulse", "type": "quantitative", "bin": {"binned": true, "step": 5}, "scale": {"domain": [0, 80], "nice": false}, "axis": {"values": [0, 20, 40, 60, 80], "labelExpr": "datum.value % 40 == 0 ? datum.label : ''", "domain": false, "tickSize": 3, "title": "pulse [ms]", "titleFontSize": 11.5, "titlePadding": 1}},
         "y": {"field": "pause", "type": "quantitative", "bin": {"binned": true, "step": 5}, "scale": {"domain": [0, 80], "nice": false}, "axis": {"values": [0, 20, 40, 60, 80], "labelExpr": "datum.value % 40 == 0 ? datum.label : ''", "labelFontSize": 9.5, "labelOffset": {"condition": [{"test": "datum.value == 80", "value": 3}, {"test": "datum.value == 0", "value": -1}], "value": 0}, "domain": false, "tickSize": 3, "title": null}},
         "color": {"field": "v", "type": "quantitative", "scale": {"domain": [0, 1], "interpolate": "rgb", "range": ["#3b3d9a", "#3a62c2", "#3685cf", "#22a2c8", "#3db59f", "#8ebf74", "#d9bb58", "#f9c93a", "#f5e32c"]},
          "legend": {"orient": "none", "legendX": 76, "legendY": 23, "direction": "vertical", "gradientLength": 42, "gradientThickness": 7, "gradientStrokeWidth": 0, "values": [0, 1], "labelExpr": "datum.value > 0.5 ? 'max' : 'min'", "title": null, "labelFontSize": 10.5, "labelOffset": 3}}}},
       {"data": {"values": [{}]}, "mark": {"type": "rule", "color": "#808080", "strokeWidth": 4, "opacity": 0.8}, "encoding": {"x": {"datum": 20}}},
       {"data": {"values": [{"label": "original"}]}, "mark": {"type": "text", "fontSize": 10.5, "fontWeight": "bold", "color": "#888", "align": "left", "baseline": "top"}, "encoding": {"text": {"field": "label"}, "x": {"datum": 83.3}, "y": {"datum": 76.6}}}
      ]
     }
    ]
   },
   {
    "bounds": "flush",
    "spacing": 0,
    "vconcat": [
     {
      "width": 127, "height": 21,
      "data": {"values": [{"letter": "C"}]},
      "mark": {"type": "text", "fontSize": 19, "fontWeight": "bold", "color": "#111", "align": "left", "baseline": "top"},
      "encoding": {
       "text": {"field": "letter"},
       "x": {"datum": -22, "type": "quantitative", "scale": {"domain": [-1, 80], "nice": false, "zero": false}, "axis": null},
       "y": {"datum": 1.007, "type": "quantitative", "scale": {"domain": [0, 1], "nice": false}, "axis": null}}
     },
     {
      "width": 127, "height": 164,
      "layer": [
       {"data": {"name": "lnResp"}, "transform": [{"filter": "datum.model == 'inh. lobe'"}],
        "mark": {"type": "line", "color": "#3d9ad8", "strokeWidth": 3, "interpolate": "monotone"},
        "encoding": {
         "x": {"field": "pause", "type": "quantitative", "scale": {"domain": [-1, 80], "nice": false, "zero": false}, "axis": {"values": [0, 40, 80], "title": "pause [ms]", "labelFontSize": 12, "titleFontSize": 12.5, "titlePadding": 2}},
         "y": {"field": "r", "type": "quantitative", "scale": {"domain": [0, 1], "nice": false}, "axis": {"values": [0, 1], "labelExpr": "datum.value == 1 ? '1.0' : '0'", "title": "LN4ₘ reponse", "labelFontSize": 12, "titleFontSize": 12.5, "titleX": -15}}}},
       {"data": {"name": "lnResp"}, "transform": [{"filter": "datum.model == 'original'"}],
        "mark": {"type": "line", "color": "#8c8c8c", "strokeWidth": 3, "interpolate": "monotone"},
        "encoding": {"x": {"field": "pause", "type": "quantitative"}, "y": {"field": "r", "type": "quantitative"}}},
       {"data": {"name": "lnResp"}, "transform": [{"filter": "datum.model == 'input gain'"}],
        "mark": {"type": "line", "color": "#ec552c", "strokeWidth": 3, "interpolate": "monotone"},
        "encoding": {"x": {"field": "pause", "type": "quantitative"}, "y": {"field": "r", "type": "quantitative"}}},
       {"data": {"values": [{}]},
        "mark": {"type": "rule", "color": "#444", "strokeWidth": 1.5},
        "encoding": {"x": {"datum": 29.2}, "y": {"datum": 0.97}, "y2": {"datum": 0.77}}},
       {"data": {"values": [{}]},
        "mark": {"type": "point", "shape": "triangle-down", "filled": true, "color": "#444", "size": 60, "opacity": 1},
        "encoding": {"x": {"datum": 29.2}, "y": {"datum": 0.745}}},
       {"data": {"values": [{"label": "input gain"}]},
        "mark": {"type": "text", "fontSize": 10.5, "fontWeight": "bold", "color": "#e8552c", "align": "left", "baseline": "middle"},
        "encoding": {"text": {"field": "label"}, "x": {"datum": 45.5}, "y": {"datum": 0.916}}},
       {"data": {"values": [{"label": "inh. lobe"}]},
        "mark": {"type": "text", "fontSize": 10.5, "fontWeight": "bold", "color": "#3d9ad8", "align": "left", "baseline": "middle"},
        "encoding": {"text": {"field": "label"}, "x": {"datum": 48.1}, "y": {"datum": 0.59}}},
       {"data": {"values": [{"label": "original"}]},
        "mark": {"type": "text", "fontSize": 10.5, "fontWeight": "bold", "color": "#8c8c8c", "align": "left", "baseline": "middle"},
        "encoding": {"text": {"field": "label"}, "x": {"datum": 35.3}, "y": {"datum": 0.207}}}
      ]
     }
    ]
   }
  ]
 }
]
}
